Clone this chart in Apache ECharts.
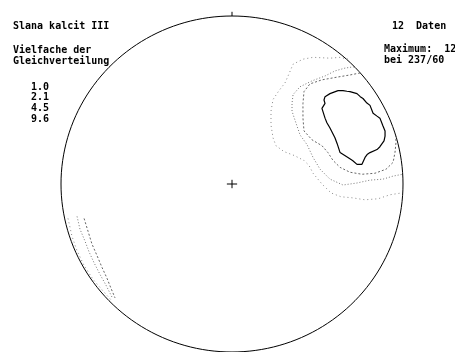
<!DOCTYPE html>
<html>
<head>
<meta charset="utf-8">
<script src="https://cdn.jsdelivr.net/npm/echarts@6/dist/echarts.min.js"></script>
<style>
  html, body { margin: 0; padding: 0; background: #fff; }
  #chart { width: 455px; height: 352px; }
</style>
</head>
<body>
<div id="chart"></div>
<script>
// Schmidt net (lower hemisphere), coordinates in units of the primitive radius.
var title = 'Slana kalcit III';
var legendHeading = ['Vielfache der', 'Gleichverteilung'];
var contourLevels = ['1.0', '2.1', '4.5', '9.6'];
var dataCount = 12;
var maximumValue = 12;
var maximumAt = '237/60';

// Contour 1.0 (open at the primitive, continues antipodally)
var contour1 = [
  [0.678, 0.743], [0.632, 0.754], [0.573, 0.749], [0.474, 0.754], [0.415, 0.743],
  [0.357, 0.713], [0.333, 0.655], [0.310, 0.602], [0.275, 0.556], [0.240, 0.503],
  [0.228, 0.433], [0.228, 0.351], [0.240, 0.275], [0.257, 0.228], [0.304, 0.193],
  [0.363, 0.170], [0.421, 0.140], [0.450, 0.111], [0.474, 0.064], [0.526, 0.000],
  [0.579, -0.053], [0.637, -0.076], [0.702, -0.082], [0.778, -0.094], [0.854, -0.088],
  [0.924, -0.064], [0.994, -0.053]
];
// Contour 2.1
var contour2 = [
  [0.714, 0.698], [0.661, 0.690], [0.602, 0.673], [0.544, 0.643], [0.468, 0.614],
  [0.398, 0.579], [0.357, 0.532], [0.351, 0.480], [0.351, 0.433], [0.374, 0.363],
  [0.398, 0.292], [0.439, 0.234], [0.474, 0.158], [0.515, 0.088], [0.573, 0.029],
  [0.649, -0.006], [0.731, 0.006], [0.807, 0.023], [0.883, 0.029], [0.942, 0.047],
  [0.998, 0.058]
];
// Contour 4.5
var contour3 = [
  [0.749, 0.661], [0.690, 0.649], [0.620, 0.637], [0.526, 0.620], [0.456, 0.596],
  [0.421, 0.550], [0.415, 0.480], [0.415, 0.392], [0.421, 0.316], [0.468, 0.263],
  [0.526, 0.228], [0.561, 0.187], [0.591, 0.140], [0.632, 0.099], [0.690, 0.070],
  [0.760, 0.058], [0.836, 0.064], [0.901, 0.088], [0.942, 0.129], [0.953, 0.187],
  [0.959, 0.246], [0.958, 0.287]
];
// Contour 9.6 (closed)
var contour4 = [
  [0.620, 0.556], [0.649, 0.556], [0.672, 0.552], [0.690, 0.550], [0.731, 0.538],
  [0.750, 0.520], [0.766, 0.509], [0.789, 0.482], [0.807, 0.468], [0.825, 0.421],
  [0.848, 0.404], [0.865, 0.392], [0.883, 0.345], [0.895, 0.316], [0.895, 0.285],
  [0.889, 0.257], [0.865, 0.222], [0.848, 0.205], [0.807, 0.187], [0.790, 0.175],
  [0.778, 0.158], [0.760, 0.117], [0.731, 0.117], [0.705, 0.140], [0.678, 0.158],
  [0.632, 0.187], [0.615, 0.240], [0.602, 0.275], [0.573, 0.333], [0.555, 0.365],
  [0.544, 0.392], [0.526, 0.450], [0.544, 0.480], [0.538, 0.500], [0.544, 0.520],
  [0.573, 0.538], [0.620, 0.556]
];
// Antipodal continuations near the primitive (lower left)
var contour1Opposite = [
  [-0.959, -0.205], [-0.936, -0.310], [-0.906, -0.398], [-0.865, -0.485],
  [-0.813, -0.567], [-0.754, -0.637], [-0.702, -0.696]
];
var contour2Opposite = [
  [-0.906, -0.193], [-0.889, -0.269], [-0.860, -0.339], [-0.836, -0.404],
  [-0.807, -0.468], [-0.772, -0.538], [-0.737, -0.602], [-0.702, -0.673]
];
var contour3Opposite = [
  [-0.865, -0.205], [-0.842, -0.281], [-0.819, -0.357], [-0.789, -0.427],
  [-0.760, -0.497], [-0.731, -0.561], [-0.708, -0.620], [-0.684, -0.678]
];

// Primitive circle of the net
var primitive = [];
for (var a = 0; a <= 360; a += 2) {
  var r = a * Math.PI / 180;
  primitive.push([Math.cos(r), Math.sin(r)]);
}
var northTick = [[0, 1], [0, 1.025]];
var centreH = [[-0.03, 0], [0.03, 0]];
var centreV = [[0, -0.025], [0, 0.025]];

var chart = echarts.init(document.getElementById('chart'), null, { renderer: 'canvas' });

function lineSeries(data, style) {
  return {
    type: 'line', data: data, showSymbol: false, symbol: 'none', silent: true,
    clip: false, animation: false, lineStyle: style
  };
}

var font = 'bold 10px "DejaVu Sans Mono", monospace';
function txt(x, y, s) {
  return { type: 'text', left: x, top: y, silent: true,
    style: { text: s, font: font, fill: '#000' } };
}

var graphics = [
  txt(13, 21, title),
  txt(13, 45, legendHeading[0]),
  txt(13, 56, legendHeading[1]),
  txt(392, 21, dataCount + '  Daten'),
  txt(384, 44, 'Maximum:  ' + maximumValue),
  txt(384, 55, 'bei ' + maximumAt)
];
contourLevels.forEach(function (lv, i) {
  graphics.push(txt(31, 82 + i * 10.7, lv));
});

var dotSparse = { color: '#888', width: 1, type: [1, 3] };
var dotMid = { color: '#777', width: 1, type: [1, 2] };
var dashFine = { color: '#666', width: 1, type: [2, 2] };

chart.setOption({
  backgroundColor: '#fff',
  animation: false,
  grid: { left: 61, top: 16, width: 342, height: 342, containLabel: false },
  xAxis: { type: 'value', min: -1, max: 1, show: false },
  yAxis: { type: 'value', min: -1, max: 1, show: false },
  graphic: graphics,
  series: [
    lineSeries(primitive, { color: '#000', width: 1 }),
    lineSeries(northTick, { color: '#000', width: 1 }),
    lineSeries(centreH, { color: '#000', width: 1 }),
    lineSeries(centreV, { color: '#000', width: 1 }),
    lineSeries(contour1, dotSparse),
    lineSeries(contour2, dotMid),
    lineSeries(contour3, dashFine),
    lineSeries(contour4, { color: '#000', width: 1.2 }),
    lineSeries(contour1Opposite, dotSparse),
    lineSeries(contour2Opposite, dotMid),
    lineSeries(contour3Opposite, dashFine)
  ]
});
</script>
</body>
</html>
